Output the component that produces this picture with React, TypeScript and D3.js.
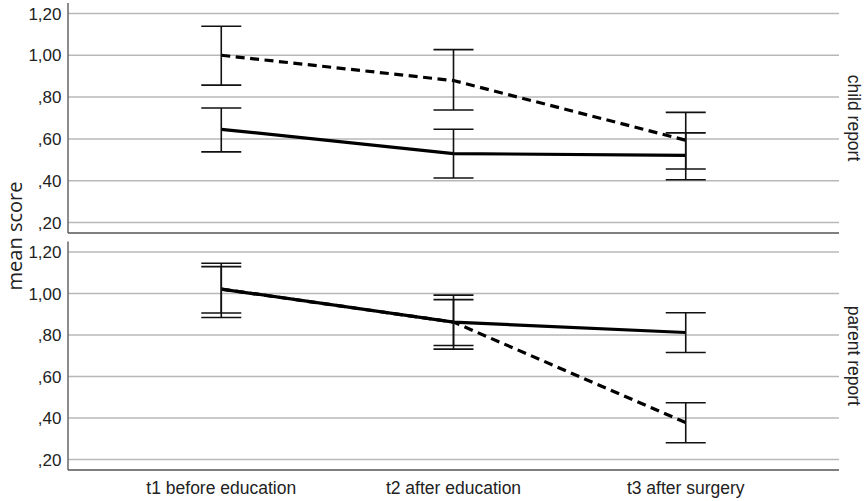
import React from "react";
import * as d3 from "d3";

const timepoints = ["t1 before education", "t2 after education", "t3 after surgery"];
const panels = ["child report", "parent report"];
const yTicks = [0.2, 0.4, 0.6, 0.8, 1.0, 1.2];

// child report
const childSolidMean = [0.646, 0.53, 0.521];
const childSolidLow = [0.538, 0.413, 0.405];
const childSolidHigh = [0.748, 0.646, 0.629];
const childDashedMean = [1.0, 0.879, 0.594];
const childDashedLow = [0.857, 0.738, 0.456];
const childDashedHigh = [1.139, 1.027, 0.727];

// parent report
const parentSolidMean = [1.021, 0.862, 0.812];
const parentSolidLow = [0.906, 0.749, 0.716];
const parentSolidHigh = [1.129, 0.97, 0.907];
const parentDashedMean = [1.021, 0.862, 0.378];
const parentDashedLow = [0.884, 0.732, 0.281];
const parentDashedHigh = [1.145, 0.992, 0.474];

const W = 864;
const H = 501;
const left = 68;
const right = 839;
const panelRanges: [number, number][] = [
  [233, 3],
  [470, 241.5],
];

const fmt = (v: number) => {
  const s = v.toFixed(2).replace(".", ",");
  return s.startsWith("0") ? s.slice(1) : s;
};

type Series = { mean: number[]; low: number[]; high: number[]; dashed: boolean };

const panelSeries: Series[][] = [
  [
    { mean: childSolidMean, low: childSolidLow, high: childSolidHigh, dashed: false },
    { mean: childDashedMean, low: childDashedLow, high: childDashedHigh, dashed: true },
  ],
  [
    { mean: parentSolidMean, low: parentSolidLow, high: parentSolidHigh, dashed: false },
    { mean: parentDashedMean, low: parentDashedLow, high: parentDashedHigh, dashed: true },
  ],
];

export default function App() {
  const x = d3.scalePoint<string>().domain(timepoints).range([left, right]).padding(0.66);
  const cap = 20;
  const textFont = "'Liberation Sans', Arial, sans-serif";

  return (
    <svg width={W} height={H} style={{ position: "absolute", left: 0, top: 0, background: "#fff" }}>
      {panels.map((p, pi) => {
        const y = d3.scaleLinear().domain([0.15, 1.25]).range(panelRanges[pi]);
        const line = d3
          .line<number>()
          .x((_, i) => x(timepoints[i]) as number)
          .y((d) => y(d));
        const [yb, yt] = panelRanges[pi];
        return (
          <g key={p}>
            {yTicks.map((t) => (
              <g key={t}>
                <line x1={left} x2={right} y1={y(t)} y2={y(t)} stroke="#b8b8b8" strokeWidth={1.5} />
                <text
                  x={61.5}
                  y={y(t)}
                  dy="0.36em"
                  textAnchor="end"
                  fontFamily={textFont}
                  fontSize={17}
                  fill="#222"
                >
                  {fmt(t)}
                </text>
              </g>
            ))}
            <line x1={left} x2={left} y1={yt} y2={yb} stroke="#666" strokeWidth={1.5} />
            <line x1={left} x2={right} y1={yb} y2={yb} stroke="#555" strokeWidth={1.5} />
            {panelSeries[pi].map((s, si) => (
              <g key={si}>
                <path
                  d={line(s.mean) || ""}
                  fill="none"
                  stroke="#000"
                  strokeWidth={3.2}
                  strokeDasharray={s.dashed ? "9,5.5" : undefined}
                />
                {timepoints.map((tp, i) => {
                  const cx = x(tp) as number;
                  return (
                    <g key={tp} stroke="#111" strokeWidth={1.6}>
                      <line x1={cx} x2={cx} y1={y(s.low[i])} y2={y(s.high[i])} />
                      <line x1={cx - cap} x2={cx + cap} y1={y(s.low[i])} y2={y(s.low[i])} />
                      <line x1={cx - cap} x2={cx + cap} y1={y(s.high[i])} y2={y(s.high[i])} />
                    </g>
                  );
                })}
              </g>
            ))}
            <text
              transform={`translate(847.5,${(yb + yt) / 2}) rotate(90)`}
              textAnchor="middle"
              fontFamily={textFont}
              fontSize={17.5}
              fill="#222"
            >
              {p}
            </text>
          </g>
        );
      })}
      {timepoints.map((tp) => (
        <text
          key={tp}
          x={x(tp) as number}
          y={494}
          textAnchor="middle"
          fontFamily={textFont}
          fontSize={17.5}
          fill="#222"
        >
          {tp}
        </text>
      ))}
      <text
        transform="translate(22,236) rotate(-90)"
        textAnchor="middle"
        fontFamily="'Open Sans', sans-serif"
        fontSize={20}
        fill="#222"
      >
        mean score
      </text>
    </svg>
  );
}
